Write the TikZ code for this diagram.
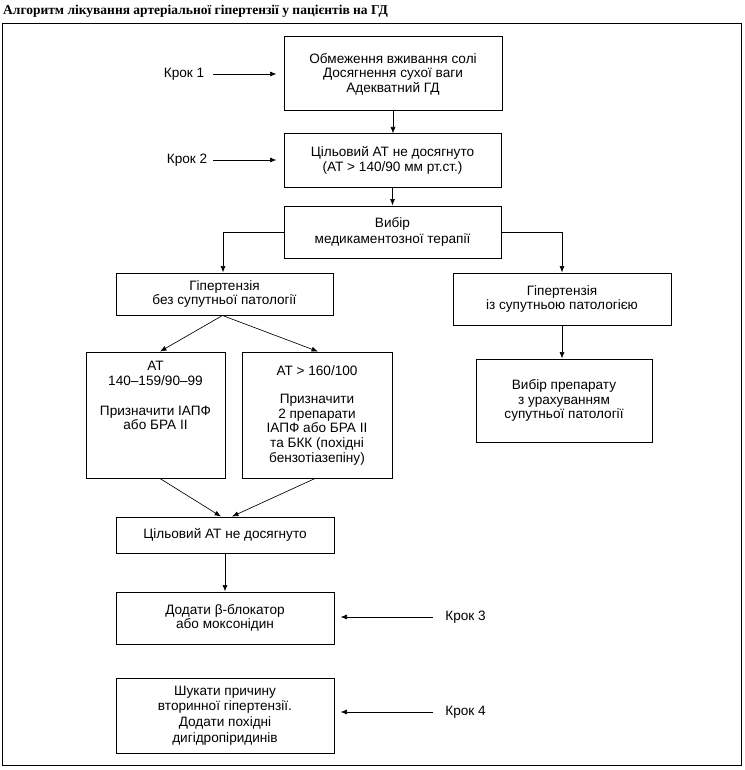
\documentclass[tikz,border=0pt]{standalone}
\usepackage{fontspec}
\setmainfont{Liberation Sans}
\newfontfamily\titlefont{Liberation Serif}
\usetikzlibrary{arrows.meta}
\tikzset{
  box/.style={draw, line width=1pt, inner sep=0pt, align=center, font=\fs},
  txt/.style={inner sep=0pt, align=center, font=\fs},
  arr/.style={line width=0.65pt, -{Latex[length=6.5pt,width=5pt]}},
}
\newcommand{\fs}{\fontsize{13.6}{14.6}\selectfont}
\begin{document}
\begin{tikzpicture}[x=1pt,y=-1pt]
\useasboundingbox (0,0) rectangle (744,770);
\node[anchor=base west, inner sep=0pt, font=\titlefont\bfseries\fontsize{13.5}{15}\selectfont] (title) at (3,15) {Алгоритм лікування артеріальної гіпертензії у пацієнтів на ГД};
\draw[line width=1.4pt] (2.5,23.5) rectangle (741.5,765.5);

\node[box, minimum width=218pt, minimum height=74pt] (b1) at (393,74) {Обмеження вживання солі\\Досягнення сухої ваги\\Адекватний ГД};
\node[box, minimum width=217pt, minimum height=53pt] (b2) at (392.5,160.5) {Цільовий АТ не досягнуто\\(АТ > 140/90 мм рт.ст.)};
\node[box, minimum width=217pt, minimum height=52pt] (b3) at (392.5,232) {Вибір\\[1.5pt]медикаментозної терапії};
\node[box, minimum width=217pt, minimum height=42pt] (b4) at (224.5,294) {Гіпертензія\\без супутньої патології};
\node[box, minimum width=218pt, minimum height=52pt] (b10) at (562,299) {Гіпертензія\\із супутньою патологією};
\node[box, minimum width=139pt, minimum height=126pt] (b5) at (155.5,415) {};
\node[txt, anchor=north] (b5t) at (155.5,361) {АТ\\140–159/90–99\\[15.5pt]Призначити ІАПФ\\або БРА ІІ};
\node[box, minimum width=150pt, minimum height=126pt] (b6) at (317,415) {АТ > 160/100\\[14pt]Призначити\\2 препарати\\ІАПФ або БРА ІІ\\та БКК (похідні\\бензотіазепіну)};
\node[box, minimum width=176pt, minimum height=83pt] (b11) at (564,400.5) {Вибір препарату\\з урахуванням\\супутньої патології};
\node[box, minimum width=218pt, minimum height=36pt] (b7) at (225,535) {Цільовий АТ не досягнуто};
\node[box, minimum width=218pt, minimum height=52pt] (b8) at (225,618) {Додати β-блокатор\\або моксонідин};
\node[box, minimum width=218pt, minimum height=75pt] (b9) at (225,715.5) {Шукати причину\\[1pt]вторинної гіпертензії.\\[1pt]Додати похідні\\[1pt]дигідропіридинів};

\node[txt] (k1) at (184,74) {Крок 1};
\node[txt] (k2) at (187,160) {Крок 2};
\node[txt] (k3) at (465.5,617) {Крок 3};
\node[txt] (k4) at (465.5,712) {Крок 4};

\draw[arr] ([xshift=9pt]k1.east) -- ([xshift=-7pt]k1.east -| b1.west);
\draw[arr] ([xshift=6pt]k2.east) -- ([xshift=-7pt]k2.east -| b2.west);
\draw[arr] ([xshift=-12pt]k3.west) -- ([xshift=6pt]k3.west -| b8.east);
\draw[arr] ([xshift=-12pt]k4.west) -- ([xshift=6pt]k4.west -| b9.east);

\draw[arr] (b1.south) -- (b1.south |- b2.north);
\draw[arr] (b2.south) -- (b2.south |- b3.north);
\draw[arr] (b3.west) -| ([xshift=-1.5pt]b4.north);
\draw[arr] (b3.east) -| (b10.north);
\draw[arr] (b10.south) -- (b10.south |- b11.north);
\draw[arr] ([xshift=-2pt]b4.south) -- ([xshift=4.5pt]b5.north);
\draw[arr] ([xshift=-2pt]b4.south) -- ([xshift=1pt]b6.north);
\draw[arr] ([xshift=4.5pt]b5.south) -- ([xshift=-4pt]b7.north);
\draw[arr] ([xshift=-2pt]b6.south) -- ([xshift=7pt]b7.north);
\draw[arr] (b7.south) -- (b8.north);
\end{tikzpicture}
\end{document}
